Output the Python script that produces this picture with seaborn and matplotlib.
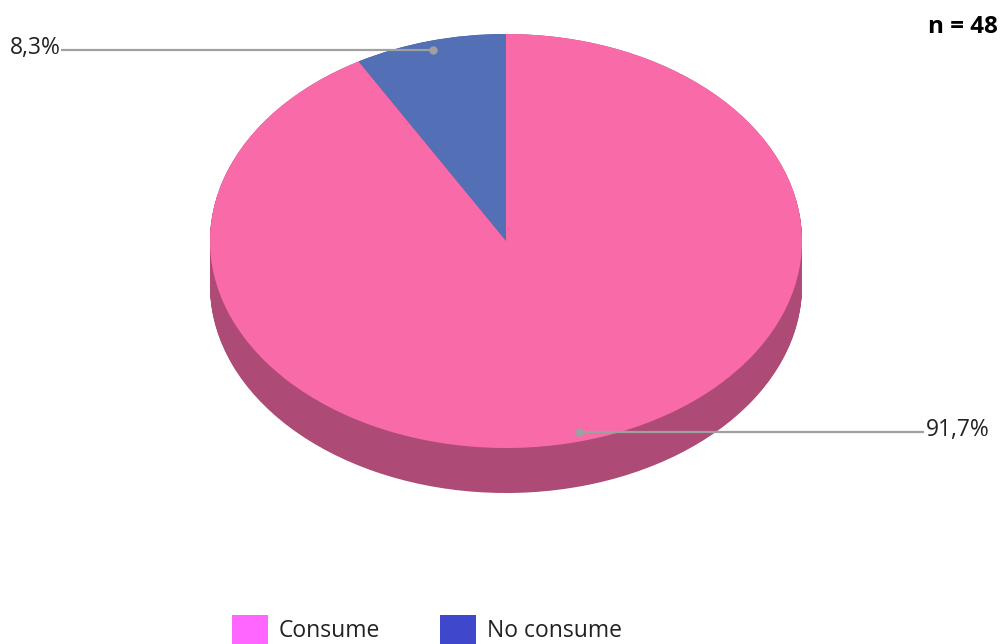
import numpy as np
import matplotlib
matplotlib.use("Agg")
import matplotlib.pyplot as plt
from matplotlib.patches import Patch
import seaborn as sns

# ---- data ----
categories = ["No consume", "Consume"]
values = [8.3, 91.7]
labels = ["8,3%", "91,7%"]
top_colors = ["#5370B6", "#F96BA8"]
side_colors = ["#3B5088", "#AD4A75"]
legend_order = ["Consume", "No consume"]
legend_colors = ["#FF66FF", "#3F48CC"]
n_text = "n = 48"

sns.set_theme(style="white")
plt.rcParams['font.family'] = ['Open Sans', 'DejaVu Sans']

W, H = 1001, 644
fig = plt.figure(figsize=(W / 100, H / 100), dpi=100)

# ellipse geometry (pixels)
cx, cy, rx, ry, depth = 506, 241, 296, 207, 45
d = depth / ry
left = (cx - rx) / W
width = 2 * rx / W
bottom = (H - (cy + ry + depth)) / H
height = (2 * ry + depth) / H
ax = fig.add_axes([left, bottom, width, height])

# extruded side
for off in np.linspace(d, 0.0, 60):
    ax.pie(values, colors=side_colors, startangle=90, counterclock=True,
           radius=1, center=(0, -off), wedgeprops=dict(linewidth=0),
           frame=True)
wedges, _ = ax.pie(values, colors=top_colors, startangle=90, counterclock=True,
                   radius=1, center=(0, 0), wedgeprops=dict(linewidth=0),
                   frame=True)

ax.set_aspect('auto')
ax.set_xlim(-1, 1)
ax.set_ylim(-1 - d, 1)
ax.axis('off')

# leader lines with labels
label_x = [-1.505, 1.413]
for w, lab, lx in zip(wedges, labels, label_x):
    mid = np.deg2rad((w.theta1 + w.theta2) / 2)
    px, py = 0.955 * np.cos(mid), 0.955 * np.sin(mid)
    ax.plot([px, lx], [py, py], color="#A0A0A0", lw=1.6, clip_on=False,
            solid_capstyle='butt')
    ax.plot([px], [py], 'o', color="#A0A0A0", ms=5, clip_on=False)
    ha = 'right' if lx < 0 else 'left'
    ax.text(lx + (0.005 if lx > 0 else 0.0), py + 0.012, lab, ha=ha, va='center',
            fontsize=16.5, color="#222222", clip_on=False)

fig.text(998 / W, 1 - 27 / H, n_text, ha='right', va='center',
         fontsize=17.5, fontweight='bold', color='black')

handles = [Patch(facecolor=c, edgecolor='none') for c in legend_colors]
fig.legend(handles, legend_order, loc='upper left',
           bbox_to_anchor=(232 / W, 1 - 615 / H), frameon=False, ncol=2,
           fontsize=16.5, handlelength=1.57, handleheight=1.6,
           handletextpad=0.48, columnspacing=2.6, borderpad=0,
           borderaxespad=0, labelcolor="#222222")

fig.savefig("out.png", dpi=100)
